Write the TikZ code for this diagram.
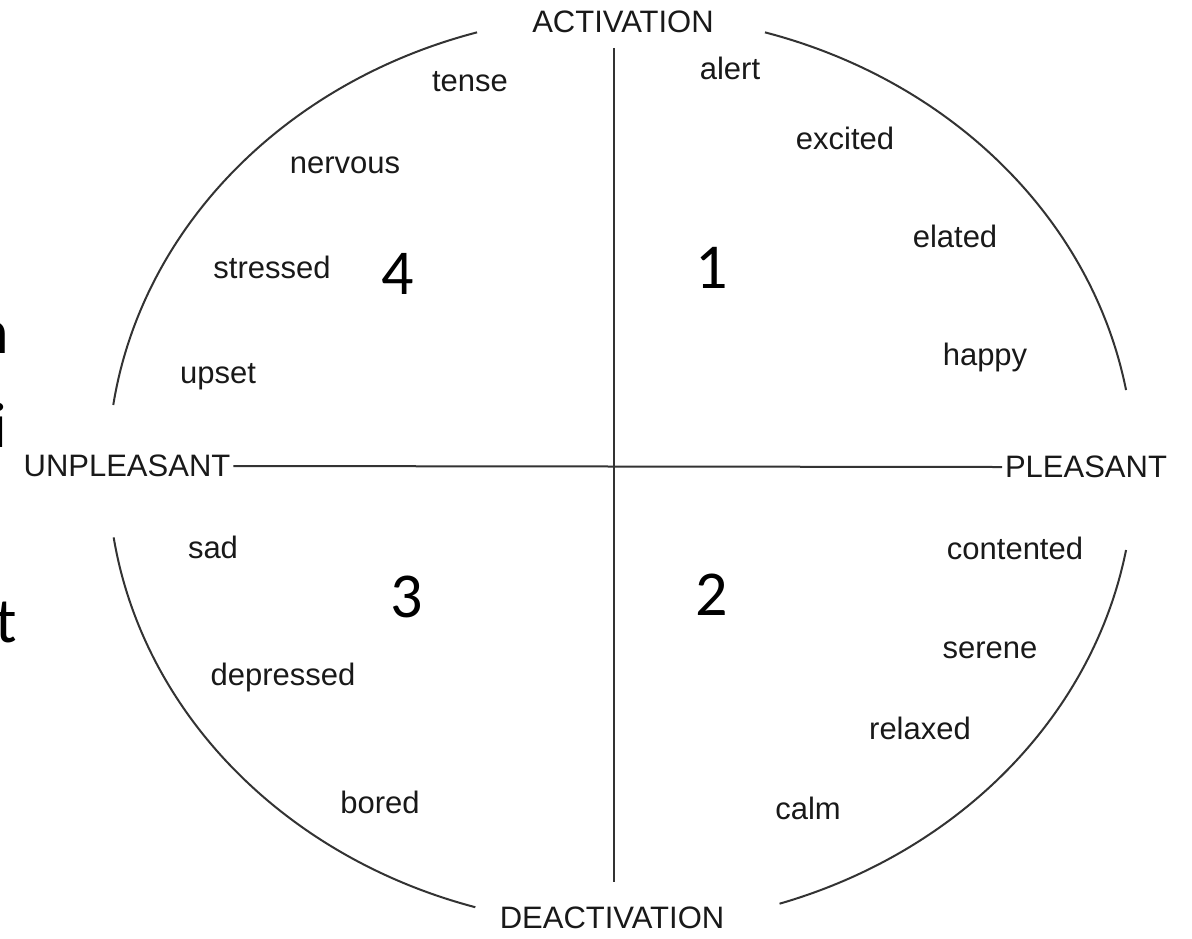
\documentclass[tikz,border=0pt]{standalone}
\usepackage{fontspec}
\setmainfont{Liberation Sans}
\newfontfamily\digitfont{Carlito}

\begin{document}
\begin{tikzpicture}[x=0.5pt, y=0.5pt, line width=1pt,
        every node/.style={inner sep=1pt, text=black!90},
        mood/.style={font=\fontsize{15.5}{18}\selectfont},
        pole/.style={font=\fontsize{15.5}{18}\selectfont},
        quad/.style={font=\digitfont\fontsize{32}{38}\selectfont, text=black},
        frag/.style={font=\digitfont\fontsize{32}{38}\selectfont, text=black, anchor=base east}]
    \useasboundingbox (0,0) rectangle (1192,-938);
    \coordinate (o) at (614,-466);
    \coordinate (c) at (621,-470);

    % ring, broken at the four poles
    \draw[black!80] (c) ++(106.3:513 and 456) arc[start angle=106.3, end angle=171.8, x radius=513, y radius=456];
    \draw[black!80] (c) ++(10.1:513 and 456) arc[start angle=10.1, end angle=73.7, x radius=513, y radius=456];
    \draw[black!80] (c) ++(-72:513 and 456) arc[start angle=-72, end angle=-10.1, x radius=513, y radius=456];
    \draw[black!80] (c) ++(188.5:513 and 456) arc[start angle=188.5, end angle=253.5, x radius=513, y radius=456];

    \node[pole] (act) at (623,-22) {ACTIVATION};
    \node[pole] (deact) at (612,-918) {DEACTIVATION};
    \node[pole] (unpl) at (127,-466) {UNPLEASANT};
    \node[pole] (pleas) at (1086,-467) {PLEASANT};

    \draw[black!80] (unpl.east) -- (pleas.west);
    \draw[black!80] ([yshift=-6pt]act.south -| o) -- ([yshift=11pt]deact.north -| o);

    % quadrant 1
    \node[mood] (alert) at (730,-68) {alert};
    \node[mood] (excited) at (845,-138) {excited};
    \node[mood] (elated) at (955,-236) {elated};
    \node[mood] (happy) at (985,-357) {happy};
    % quadrant 2
    \node[mood] (contented) at (1015,-548) {contented};
    \node[mood] (serene) at (990,-650) {serene};
    \node[mood] (relaxed) at (920,-728) {relaxed};
    \node[mood] (calm) at (808,-808) {calm};
    % quadrant 3
    \node[mood] (sad) at (213,-547) {sad};
    \node[mood] (depressed) at (283,-677) {depressed};
    \node[mood] (bored) at (380,-802) {bored};
    % quadrant 4
    \node[mood] (tense) at (470,-82) {tense};
    \node[mood] (nervous) at (345,-165) {nervous};
    \node[mood] (stressed) at (272,-267) {stressed};
    \node[mood] (upset) at (218,-377) {upset};

    \node[quad] (q1) at (712,-268) {1};
    \node[quad] (q2) at (712,-595) {2};
    \node[quad] (q3) at (407,-597) {3};
    \node[quad] (q4) at (398,-274) {4};

    % cut-off letters at the left edge
    \node[frag] (fn) at (12,-353) {n};
    \node[frag] (fi) at (10,-447) {i};
    \node[frag] (ft) at (20,-642) {t};
\end{tikzpicture}
\end{document}
